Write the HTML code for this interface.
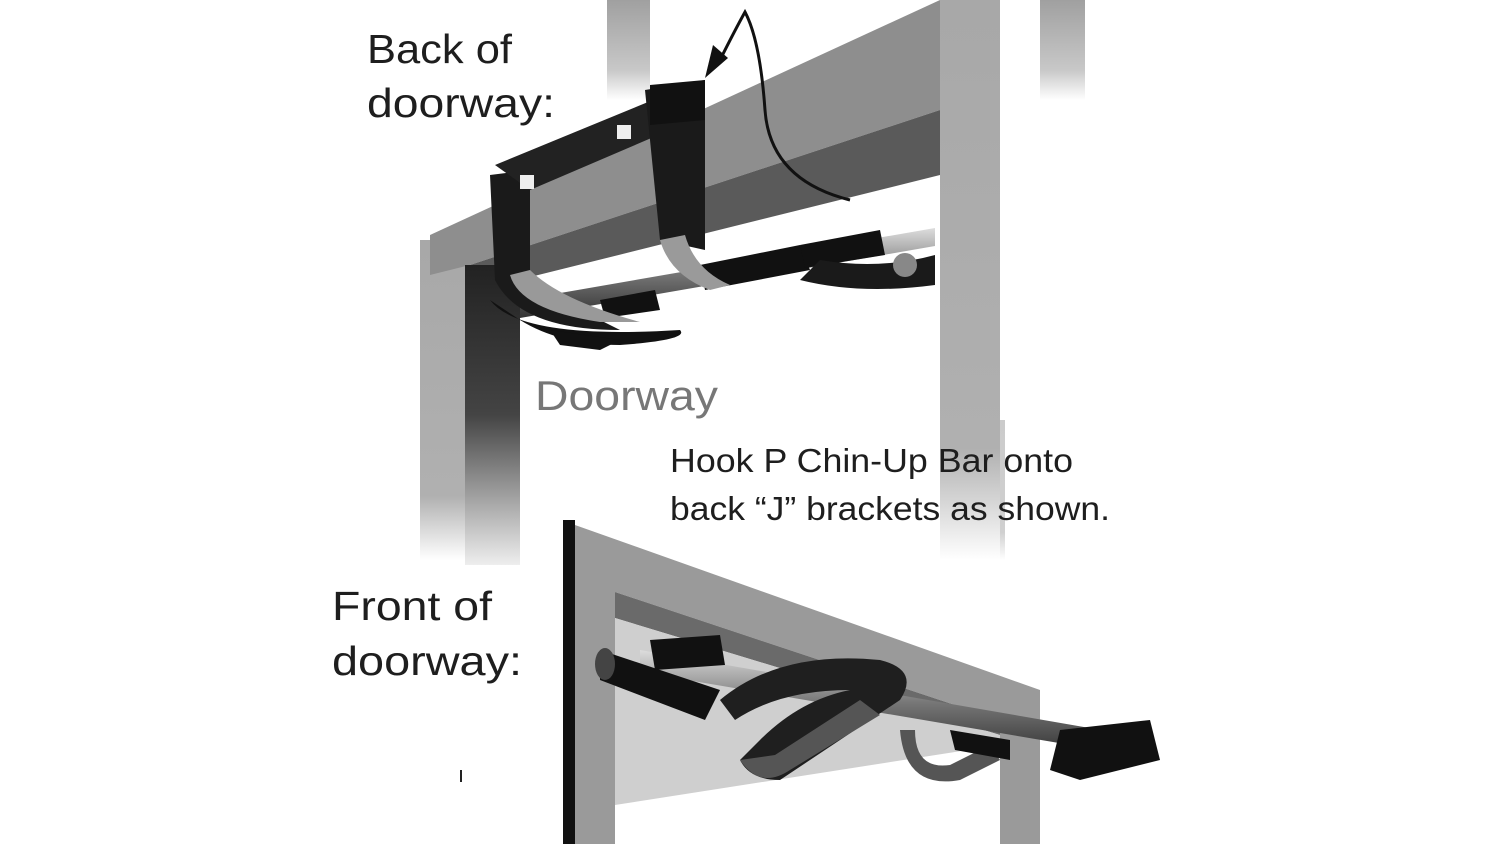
<!DOCTYPE html>
<html><head><meta charset="utf-8"><style>
html,body{margin:0;padding:0;background:#fff;}
svg{display:block;}
text{font-family:"Liberation Sans",sans-serif;}
</style></head><body>
<svg width="1500" height="844" viewBox="0 0 1500 844" xmlns="http://www.w3.org/2000/svg">
<defs>
<linearGradient id="fadeV" x1="0" y1="0" x2="0" y2="1">
<stop offset="0" stop-color="#a8a8a8"/><stop offset="0.8" stop-color="#b0b0b0"/><stop offset="1" stop-color="#fff"/></linearGradient>
<linearGradient id="fadeTop" x1="0" y1="0" x2="0" y2="1">
<stop offset="0" stop-color="#a0a0a0"/><stop offset="0.7" stop-color="#c8c8c8"/><stop offset="1" stop-color="#fff"/></linearGradient>
<linearGradient id="darkPost" x1="0" y1="0" x2="0" y2="1">
<stop offset="0" stop-color="#222"/><stop offset="0.5" stop-color="#444"/><stop offset="1" stop-color="#eee"/></linearGradient>
<linearGradient id="bar" x1="0" y1="0" x2="0" y2="1">
<stop offset="0" stop-color="#ddd"/><stop offset="0.5" stop-color="#777"/><stop offset="1" stop-color="#333"/></linearGradient>
</defs>

<!-- background faded posts -->
<rect x="607" y="0" width="43" height="100" fill="url(#fadeTop)"/>
<rect x="1040" y="0" width="45" height="100" fill="url(#fadeTop)"/>
<rect x="955" y="420" width="50" height="140" fill="url(#fadeV)" opacity="0.6"/>

<!-- upper frame -->
<rect x="940" y="0" width="60" height="560" fill="url(#fadeV)"/>
<polygon points="420,240 470,240 470,560 420,560" fill="url(#fadeV)"/>
<polygon points="430,235 940,0 940,110 470,265 430,275" fill="#8e8e8e"/>
<polygon points="470,265 940,110 940,175 470,292" fill="#5a5a5a"/>
<rect x="465" y="265" width="55" height="300" fill="url(#darkPost)"/>

<!-- upper bar -->
<polygon points="520,300 935,228 935,246 520,318" fill="url(#bar)"/>
<path d="M490 300 Q520 340 680 330 Q690 340 620 345 Q560 345 520 320 Z" fill="#111"/>
<path d="M700 265 L800 245 L810 270 L705 290 Z" fill="#111"/>
<path d="M800 245 L880 230 L885 255 L805 268 Z" fill="#111"/>
<path d="M800 280 Q860 295 935 285 L935 255 Q880 270 820 260 Z" fill="#1a1a1a"/>
<circle cx="905" cy="265" r="12" fill="#888"/>
<path d="M600 300 L655 290 L660 310 L605 318 Z" fill="#111"/>
<path d="M550 330 L620 340 L600 350 L560 345 Z" fill="#111"/>
<!-- J brackets -->
<path d="M490 175 L530 170 L530 270 Q540 310 600 320 L620 330 Q520 330 495 280 Z" fill="#1a1a1a"/>
<path d="M510 275 Q520 310 600 322 L640 322 Q560 300 530 270 Z" fill="#999"/>
<path d="M495 165 L665 95 L705 80 L705 115 L530 190 Z" fill="#222"/>
<rect x="520" y="175" width="14" height="14" fill="#eee"/>
<rect x="617" y="125" width="14" height="14" fill="#eee"/>
<path d="M645 90 L705 80 L705 250 L660 240 Z" fill="#1a1a1a"/>
<path d="M650 85 L705 80 L705 120 L650 125 Z" fill="#111"/>
<path d="M660 240 Q670 275 710 290 L730 285 Q695 270 685 235 Z" fill="#9a9a9a"/>
<!-- arrow -->
<path d="M850 200 Q770 180 765 110 Q760 40 745 12 Q735 30 720 60" fill="none" stroke="#111" stroke-width="3"/>
<polygon points="705,78 713,45 728,58" fill="#111"/>

<!-- lower frame -->
<rect x="563" y="520" width="12" height="324" fill="#111"/>
<polygon points="575,525 1040,690 1040,844 1000,844 1000,720 615,592 615,844 575,844" fill="#9a9a9a"/>
<polygon points="615,592 1000,720 1000,735 615,618" fill="#6a6a6a"/>
<polygon points="615,618 1000,735 1000,745 615,805" fill="#cfcfcf"/>

<!-- lower bar -->
<polygon points="640,650 1130,735 1130,755 640,672" fill="url(#bar)"/>
<path d="M600 650 L720 690 L705 720 L600 680 Z" fill="#111"/>
<ellipse cx="605" cy="664" rx="10" ry="16" fill="#444"/>
<path d="M650 640 L720 635 L725 665 L655 670 Z" fill="#111"/>
<path d="M720 700 Q780 650 880 660 Q920 670 900 700 L780 780 Q750 780 740 760 L760 740 Q800 700 850 690 Q780 690 735 720 Z" fill="#1f1f1f"/>
<path d="M740 760 Q760 790 790 770 L880 715 L860 700 L775 755 Z" fill="#555"/>
<path d="M900 730 Q905 790 960 780 L1000 760 L990 745 L950 765 Q915 770 915 730 Z" fill="#555"/>
<path d="M950 730 L1010 740 L1010 760 L955 750 Z" fill="#111"/>
<path d="M1060 730 L1150 720 L1160 760 L1080 780 L1050 770 Z" fill="#111"/>

<!-- text -->
<text x="367" y="63" font-size="41" fill="#1e1e1e" textLength="145" lengthAdjust="spacingAndGlyphs">Back of</text>
<text x="367" y="117" font-size="41" fill="#1e1e1e" textLength="188" lengthAdjust="spacingAndGlyphs">doorway:</text>
<text x="535" y="410" font-size="42" fill="#777" textLength="183" lengthAdjust="spacingAndGlyphs">Doorway</text>
<text x="670" y="472" font-size="33" fill="#1e1e1e" textLength="403" lengthAdjust="spacingAndGlyphs">Hook P Chin-Up Bar onto</text>
<text x="670" y="520" font-size="33" fill="#1e1e1e" textLength="440" lengthAdjust="spacingAndGlyphs">back “J” brackets as shown.</text>
<text x="332" y="620" font-size="41" fill="#1e1e1e" textLength="160" lengthAdjust="spacingAndGlyphs">Front of</text>
<text x="332" y="675" font-size="41" fill="#1e1e1e" textLength="190" lengthAdjust="spacingAndGlyphs">doorway:</text>
<rect x="460" y="770" width="2" height="12" fill="#222"/>
</svg>
</body></html>
